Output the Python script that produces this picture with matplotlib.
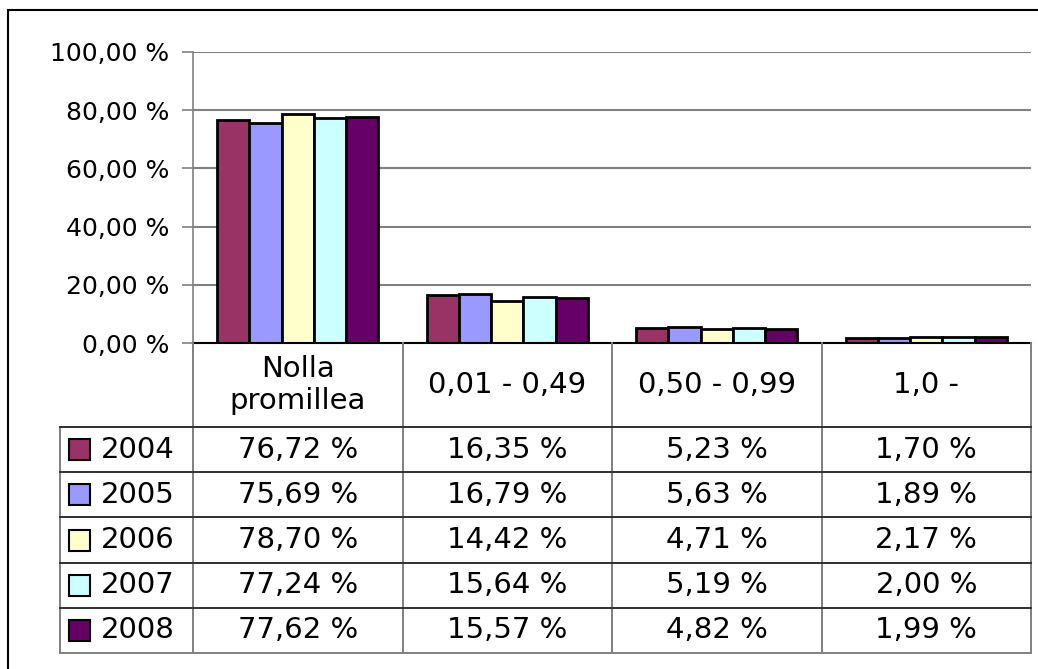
import matplotlib
matplotlib.use("Agg")
import matplotlib.pyplot as plt
import matplotlib.patches as patches
import numpy as np

# Data
categories = ["Nolla\npromillea", "0,01 - 0,49", "0,50 - 0,99", "1,0 -"]
years = ["2004", "2005", "2006", "2007", "2008"]
v2004 = [76.72, 16.35, 5.23, 1.70]
v2005 = [75.69, 16.79, 5.63, 1.89]
v2006 = [78.70, 14.42, 4.71, 2.17]
v2007 = [77.24, 15.64, 5.19, 2.00]
v2008 = [77.62, 15.57, 4.82, 1.99]
series = [v2004, v2005, v2006, v2007, v2008]
colors = ["#993366", "#9999FF", "#FFFFCC", "#CCFFFF", "#660066"]

W, H = 1038, 669
fig = plt.figure(figsize=(W / 100, H / 100), dpi=100)
plt.rcParams['font.family'] = ['DejaVu Sans']

def fx(px):
    return px / W

def fy(py):
    return 1 - py / H

# outer frame (clipped on right/bottom like the screenshot)
fig.patches.append(patches.Rectangle((fx(8), -0.1), 1.2, fy(10) + 0.1,
                                     transform=fig.transFigure, fill=False,
                                     edgecolor="black", linewidth=1.5))

# -------------------------------
# bar chart
# -------------------------------
ax_left, ax_right, ax_top, ax_bot = 193, 1031, 52, 343
ax = fig.add_axes([fx(ax_left), fy(ax_bot), fx(ax_right - ax_left), fy(ax_top) - fy(ax_bot)])
n = len(series)
bw = 1 / (n + 1.5)
x = np.arange(len(categories))
for i, vals in enumerate(series):
    ax.bar(x + (i - (n - 1) / 2) * bw, vals, bw, color=colors[i],
           edgecolor="black", linewidth=2, zorder=3)
ax.set_xlim(-0.5, len(categories) - 0.5)
ax.set_ylim(0, 100)
ax.set_yticks(np.arange(0, 101, 20))
ax.set_yticklabels([f"{t:.2f} %".replace(".", ",") for t in np.arange(0, 101, 20)], fontsize=18)
ax.yaxis.grid(True, color="#808080", linewidth=1.5, zorder=0)
ax.set_xticks([])
ax.tick_params(axis="y", length=8, width=1.2, color="#808080", pad=9)
for s in ["top", "right"]:
    ax.spines[s].set_visible(False)
ax.spines["left"].set_color("#808080")
ax.spines["left"].set_linewidth(1.2)
ax.spines["bottom"].set_color("black")
ax.spines["bottom"].set_linewidth(1.5)
ax.spines["bottom"].set_zorder(4)

# -------------------------------
# data table
# -------------------------------
tab_left, tab_bot = 60, 653
header_h = 84
row_h = (tab_bot - ax_bot - header_h) / n
unit = (ax_right - ax_left) / len(categories)
tx = fig.add_axes([fx(tab_left), fy(tab_bot), fx(ax_right - tab_left), fy(ax_bot) - fy(tab_bot)])
tx.set_xlim(-0.5 - (ax_left - tab_left) / unit, len(categories) - 0.5)
tx.set_ylim(tab_bot - ax_bot, 0)
tx.axis("off")

bounds = np.arange(len(categories) + 1) - 0.5
xl = tx.get_xlim()[0]
grey = "#808080"
# vertical lines
for b in bounds:
    tx.plot([b, b], [0, tab_bot - ax_bot], color=grey, linewidth=1.4, clip_on=False)
tx.plot([xl, xl], [header_h, tab_bot - ax_bot], color=grey, linewidth=1.4, clip_on=False)
# horizontal lines
for r in range(n + 1):
    yy = header_h + r * row_h
    tx.plot([xl, bounds[-1]], [yy, yy], color="#303030" if r < n else grey,
            linewidth=1.4, clip_on=False)

for j, c in enumerate(categories):
    tx.text(j, header_h / 2, c, ha="center", va="center", fontsize=21, linespacing=1.15)

key = 21
for i, yr in enumerate(years):
    yc = header_h + (i + 0.5) * row_h
    kx = xl + (69 - tab_left) / unit
    tx.add_patch(patches.Rectangle((kx, yc - key / 2), key / unit, key,
                                   facecolor=colors[i], edgecolor="black", linewidth=1.5))
    tx.text(xl + (101 - tab_left) / unit, yc, yr, ha="left", va="center", fontsize=21)
    for j, v in enumerate(series[i]):
        tx.text(j, yc, f"{v:.2f} %".replace(".", ","), ha="center", va="center", fontsize=21)

fig.savefig("out.png", dpi=100)
